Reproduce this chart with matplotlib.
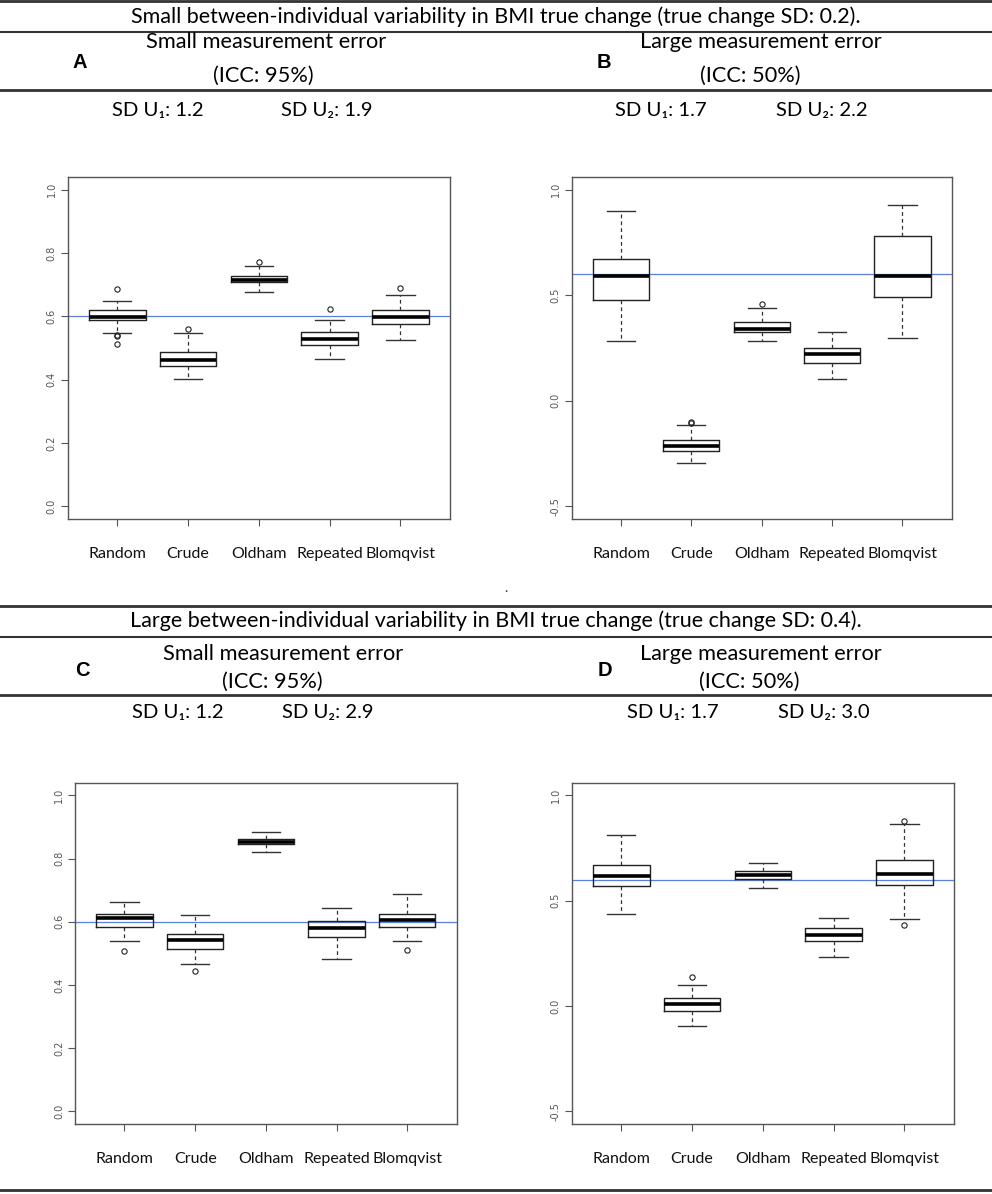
import matplotlib
matplotlib.use("Agg")
import matplotlib.pyplot as plt
from matplotlib.lines import Line2D

W, H = 992, 1194

categories = ["Random", "Crude", "Oldham", "Repeated", "Blomqvist"]
true_value = 0.6

# Panel A
A_whislo = [0.548, 0.403, 0.677, 0.466, 0.525]
A_q1 = [0.589, 0.444, 0.708, 0.511, 0.575]
A_med = [0.598, 0.463, 0.714, 0.530, 0.598]
A_q3 = [0.619, 0.487, 0.727, 0.552, 0.619]
A_whishi = [0.648, 0.547, 0.758, 0.590, 0.666]
A_fliers = [[0.685, 0.541, 0.537, 0.514], [0.559], [0.771], [0.623], [0.688]]

# Panel B
B_whislo = [0.281, -0.295, 0.284, 0.105, 0.297]
B_q1 = [0.478, -0.238, 0.325, 0.179, 0.492]
B_med = [0.589, -0.216, 0.341, 0.221, 0.589]
B_q3 = [0.673, -0.186, 0.373, 0.252, 0.781]
B_whishi = [0.897, -0.116, 0.438, 0.324, 0.927]
B_fliers = [[], [-0.100, -0.103], [0.460], [], []]

# Panel C
C_whislo = [0.538, 0.467, 0.820, 0.481, 0.538]
C_q1 = [0.584, 0.515, 0.847, 0.551, 0.582]
C_med = [0.612, 0.541, 0.852, 0.580, 0.607]
C_q3 = [0.624, 0.561, 0.862, 0.601, 0.626]
C_whishi = [0.662, 0.620, 0.884, 0.644, 0.689]
C_fliers = [[0.509], [0.443], [], [], [0.511]]

# Panel D
D_whislo = [0.439, -0.095, 0.559, 0.235, 0.415]
D_q1 = [0.572, -0.022, 0.603, 0.310, 0.575]
D_med = [0.615, 0.011, 0.622, 0.337, 0.629]
D_q3 = [0.670, 0.038, 0.641, 0.371, 0.694]
D_whishi = [0.814, 0.100, 0.678, 0.419, 0.863]
D_fliers = [[], [0.136], [], [], [0.877, 0.385]]

ticks_01 = [0.0, 0.2, 0.4, 0.6, 0.8, 1.0]
ticks_15 = [-0.5, 0.0, 0.5, 1.0]
labs01 = ["0.0", "0.2", "0.4", "0.6", "0.8", "1.0"]
labs15 = ["-0.5", "0.0", "0.5", "1.0"]

section_titles = [
    "Small between-individual variability in BMI true change (true change SD: 0.2).",
    "Large between-individual variability in BMI true change (true change SD: 0.4).",
]
panel_letters = ["A", "B", "C", "D"]
panel_titles = ["Small measurement error", "Large measurement error",
                "Small measurement error", "Large measurement error"]
panel_icc = ["(ICC: 95%)", "(ICC: 50%)", "(ICC: 95%)", "(ICC: 50%)"]
sd_u1 = ["SD U\u2081: 1.2", "SD U\u2081: 1.7", "SD U\u2081: 1.2", "SD U\u2081: 1.7"]
sd_u2 = ["SD U\u2082: 1.9", "SD U\u2082: 2.2", "SD U\u2082: 2.9", "SD U\u2082: 3.0"]

TXT = ["Lato", "DejaVu Sans"]
FRAME = "#555555"

fig = plt.figure(figsize=(W / 100, H / 100), dpi=100)


def fx(x):
    return x / W


def fy(y):
    return 1 - y / H


def hline(y, lw=1.8, x0=0, x1=W):
    fig.add_artist(Line2D([fx(x0), fx(x1)], [fy(y), fy(y)], color="#333333", lw=lw))


def txt(x, y, s, size, **kw):
    fig.text(fx(x), fy(y), s, ha=kw.pop("ha", "center"), va="center", fontsize=size,
             family=kw.pop("family", TXT), **kw)


def panel(rect, whislo, q1, med, q3, whishi, fliers, ylim, yticks, ylabels):
    l, t, r, b = rect
    ax = fig.add_axes([fx(l), fy(b), fx(r) - fx(l), (b - t) / H])
    stats = []
    for i in range(len(categories)):
        stats.append(dict(whislo=whislo[i], q1=q1[i], med=med[i], q3=q3[i],
                          whishi=whishi[i], fliers=fliers[i], label=categories[i]))
    ax.bxp(stats, positions=range(1, len(categories) + 1), widths=0.8, capwidths=0.4,
           boxprops=dict(color="#222222", lw=1.0),
           whiskerprops=dict(color="#333333", lw=0.9, linestyle=(0, (3, 2.5))),
           capprops=dict(color="#333333", lw=1.0),
           medianprops=dict(color="black", lw=2.6, solid_capstyle="butt"),
           flierprops=dict(marker="o", markerfacecolor="none", markeredgecolor="#222222",
                           markersize=3.8, markeredgewidth=0.8))
    ax.axhline(true_value, color="#5b7fdc", lw=0.9, zorder=0.5)
    ax.set_xlim(0.3, 5.7)
    ax.set_ylim(*ylim)
    ax.set_yticks(yticks)
    ax.set_yticklabels(ylabels)
    ax.set_xticks(range(1, len(categories) + 1))
    ax.set_xticklabels(categories, family=TXT, fontsize=11.5, color="#111111")
    ax.tick_params(axis="x", length=5, width=0.8, color=FRAME, pad=15)
    ax.tick_params(axis="y", length=5, width=0.8, color=FRAME, labelsize=7,
                   labelcolor="#555555", pad=3)
    for lab in ax.get_yticklabels():
        lab.set_rotation(90)
        lab.set_va("center")
        lab.set_ha("right")
    for sp in ax.spines.values():
        sp.set_color(FRAME)
        sp.set_linewidth(1.0)
    return ax


# Horizontal rules
hline(1, lw=2.0)
hline(32, lw=1.5)
hline(90, lw=2.0)
hline(606, lw=2.0)
hline(637, lw=1.5)
hline(695, lw=2.0)
hline(1190, lw=2.0)

# Section titles
txt(496, 17, section_titles[0], 15.5)
txt(496, 621, section_titles[1], 15.5)

# Panel headers
hdr = [
    (80, 266, 42, 263, 76, 158, 327, 111),
    (604, 761, 42, 750, 76, 661, 822, 111),
    (82, 283, 654, 272, 682, 178, 328, 713),
    (605, 761, 654, 749, 682, 673, 824, 712),
]
for i, (lx, tx, ty, ix, iy, s1x, s2x, sy) in enumerate(hdr):
    letter_y = (ty + iy) / 2 + 3
    txt(lx, letter_y, panel_letters[i], 14.5, family=["Liberation Sans", "DejaVu Sans"],
        fontweight="bold")
    txt(tx, ty, panel_titles[i], 15.7)
    txt(ix, iy, panel_icc[i], 15.7)
    txt(s1x, sy, sd_u1[i], 14.6)
    txt(s2x, sy, sd_u2[i], 14.6)

txt(506, 588, ".", 10, color="#333333")

panel((67.7, 177, 450, 519), A_whislo, A_q1, A_med, A_q3, A_whishi, A_fliers,
      (-0.04, 1.04), ticks_01, labs01)
panel((571.7, 177, 951.7, 519), B_whislo, B_q1, B_med, B_q3, B_whishi, B_fliers,
      (-0.56, 1.06), ticks_15, labs15)
panel((75, 782.7, 456.7, 1124), C_whislo, C_q1, C_med, C_q3, C_whishi, C_fliers,
      (-0.04, 1.04), ticks_01, labs01)
panel((571.7, 782.7, 954, 1124), D_whislo, D_q1, D_med, D_q3, D_whishi, D_fliers,
      (-0.56, 1.06), ticks_15, labs15)

fig.savefig("out.png", dpi=100)
